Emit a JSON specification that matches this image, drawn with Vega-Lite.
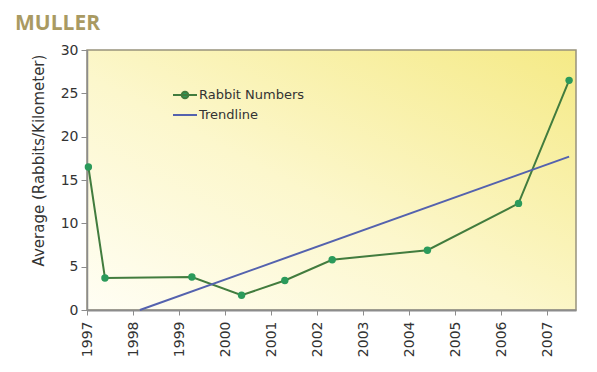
{
  "$schema": "https://vega.github.io/schema/vega-lite/v6.json",
  "width": 489,
  "height": 260,
  "autosize": {"type": "none"},
  "padding": {"left": 87, "top": 50, "right": 21, "bottom": 62},
  "background": "#ffffff",
  "title": {
    "text": "MULLER",
    "anchor": "start",
    "frame": "group",
    "font": "Open Sans",
    "fontSize": 21,
    "fontWeight": "bold",
    "color": "#a99a62",
    "dx": -72,
    "offset": 9
  },
  "config": {
    "view": {
      "stroke": "#98937c",
      "strokeWidth": 1.5,
      "fill": {
        "gradient": "linear",
        "x1": 0, "y1": 1, "x2": 1, "y2": 0,
        "stops": [
          {"offset": 0, "color": "#fffef4"},
          {"offset": 0.45, "color": "#fcf7cc"},
          {"offset": 1, "color": "#f5ea86"}
        ]
      }
    },
    "axis": {
      "grid": false,
      "labelFont": "DejaVu Sans",
      "labelFontSize": 14,
      "labelColor": "#333333",
      "titleFont": "DejaVu Sans",
      "titleFontSize": 15,
      "titleFontWeight": "normal",
      "titleColor": "#333333",
      "tickColor": "#8c8c8c",
      "domainColor": "#8c8c8c"
    }
  },
  "data": {
    "values": [
      {"year": 1997.03, "value": 16.5, "series": "Rabbit Numbers"},
      {"year": 1997.39, "value": 3.7, "series": "Rabbit Numbers"},
      {"year": 1999.28, "value": 3.8, "series": "Rabbit Numbers"},
      {"year": 2000.36, "value": 1.7, "series": "Rabbit Numbers"},
      {"year": 2001.3, "value": 3.4, "series": "Rabbit Numbers"},
      {"year": 2002.33, "value": 5.8, "series": "Rabbit Numbers"},
      {"year": 2004.4, "value": 6.9, "series": "Rabbit Numbers"},
      {"year": 2006.38, "value": 12.3, "series": "Rabbit Numbers"},
      {"year": 2007.48, "value": 26.5, "series": "Rabbit Numbers"},
      {"year": 1998.15, "value": 0, "series": "Trendline"},
      {"year": 2007.48, "value": 17.7, "series": "Trendline"}
    ]
  },
  "encoding": {
    "x": {
      "field": "year",
      "type": "quantitative",
      "scale": {"domain": [1997, 2007.63], "nice": false, "zero": false},
      "axis": {
        "title": null,
        "values": [1997, 1998, 1999, 2000, 2001, 2002, 2003, 2004, 2005, 2006, 2007],
        "format": "d",
        "labelAngle": 270,
        "labelPadding": 6,
        "tickSize": 5,
        "domainWidth": 2
      }
    },
    "y": {
      "field": "value",
      "type": "quantitative",
      "scale": {"domain": [0, 30], "nice": false},
      "axis": {
        "title": "Average (Rabbits/Kilometer)",
        "values": [0, 5, 10, 15, 20, 25, 30],
        "tickSize": 6,
        "labelPadding": 3,
        "domainWidth": 1.5,
        "titleAngle": 270,
        "titleAlign": "center",
        "titleBaseline": "middle",
        "titleX": -49,
        "titleY": 110
      }
    }
  },
  "layer": [
    {
      "mark": {"type": "line", "strokeWidth": 2},
      "encoding": {
        "color": {
          "field": "series",
          "type": "nominal",
          "scale": {"domain": ["Rabbit Numbers", "Trendline"], "range": ["#427c3e", "#5462ae"]},
          "legend": {
            "title": null,
            "orient": "none",
            "legendX": 91,
            "legendY": 38,
            "padding": 0,
            "symbolSize": 144,
            "symbolStrokeWidth": 2,
            "labelOffset": 7,
            "rowPadding": 5,
            "labelFont": "DejaVu Sans",
            "labelFontSize": 13,
            "labelColor": "#333333",
            "labelLimit": 300,
            "encode": {
              "symbols": {
                "update": {
                  "shape": {"signal": "datum.value === 'Rabbit Numbers' ? 'M-2,0L2,0M-0.55,0A0.55,0.55,0,1,1,0.55,0A0.55,0.55,0,1,1,-0.55,0Z' : 'M-2,0L2,0'"},
                  "fill": {"signal": "datum.value === 'Rabbit Numbers' ? '#2b9a5b' : 'transparent'"},
                  "stroke": {"signal": "datum.value === 'Rabbit Numbers' ? '#3f8a48' : '#7482a8'"},
                  "strokeWidth": {"value": 2}
                }
              }
            }
          }
        },
        "detail": {"field": "series"}
      }
    },
    {
      "transform": [{"filter": "datum.series === 'Rabbit Numbers'"}],
      "mark": {"type": "circle", "size": 55, "color": "#2b9a5b", "opacity": 1}
    }
  ]
}
